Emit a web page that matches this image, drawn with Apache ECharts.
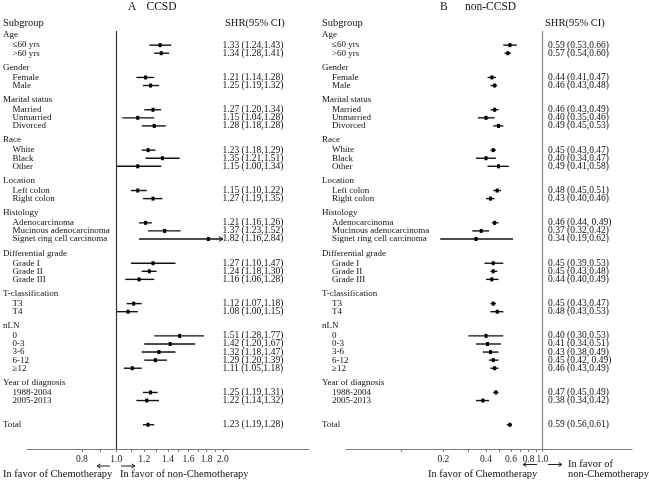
<!DOCTYPE html>
<html><head><meta charset="utf-8">
<script src="https://cdn.jsdelivr.net/npm/echarts@6/dist/echarts.min.js"></script>
<style>html,body{margin:0;padding:0;background:#fff}#c{width:649px;height:483px}</style>
</head><body><div id="c"></div>
<script>
// ---------------- data ----------------
const groups = ['Age','Gender','Marital status','Race','Location','Histology','Differential grade','T-classification','nLN','Year of diagnosis'];
const groupItems = [
  ['≤60 yrs','>60 yrs'],
  ['Female','Male'],
  ['Married','Unmarried','Divorced'],
  ['White','Black','Other'],
  ['Left colon','Right colon'],
  ['Adenocarcinoma','Mucinous adenocarcinoma','Signet ring cell carcinoma'],
  ['Grade I','Grade II','Grade III'],
  ['T3','T4'],
  ['0','0-3','3-6','6-12','≥12'],
  ['1988-2004','2005-2013']
];
const totalLabel = 'Total';

// Panel A: CCSD (items in order, Total last)
const shrA  = [1.33,1.34, 1.21,1.25, 1.27,1.15,1.28, 1.23,1.35,1.15, 1.15,1.27, 1.21,1.37,1.82, 1.27,1.24,1.16, 1.12,1.08, 1.51,1.42,1.32,1.29,1.11, 1.25,1.22, 1.23];
const lowA  = [1.24,1.28, 1.14,1.19, 1.20,1.04,1.18, 1.18,1.21,1.00, 1.10,1.19, 1.16,1.23,1.16, 1.10,1.18,1.06, 1.07,1.00, 1.28,1.20,1.18,1.20,1.05, 1.19,1.14, 1.19];
const highA = [1.43,1.41, 1.28,1.32, 1.34,1.28,1.38, 1.29,1.51,1.34, 1.22,1.35, 1.26,1.52,2.84, 1.47,1.30,1.28, 1.18,1.15, 1.77,1.67,1.47,1.39,1.18, 1.31,1.32, 1.28];
const textA = ['1.33 (1.24,1.43)','1.34 (1.28,1.41)','1.21 (1.14,1.28)','1.25 (1.19,1.32)','1.27 (1.20,1.34)','1.15 (1.04,1.28)','1.28 (1.18,1.28)',
  '1.23 (1.18,1.29)','1.35 (1.21,1.51)','1.15 (1.00,1.34)','1.15 (1.10,1.22)','1.27 (1.19,1.35)','1.21 (1.16,1.26)','1.37 (1.23,1.52)','1.82 (1.16,2.84)',
  '1.27 (1.10,1.47)','1.24 (1.18,1.30)','1.16 (1.06,1.28)','1.12 (1.07,1.18)','1.08 (1.00,1.15)',
  '1.51 (1.28,1.77)','1.42 (1.20,1.67)','1.32 (1.18,1.47)','1.29 (1.20,1.39)','1.11 (1.05,1.18)','1.25 (1.19,1.31)','1.22 (1.14,1.32)','1.23 (1.19,1.28)'];

// Panel B: non-CCSD
const shrB  = [0.59,0.57, 0.44,0.46, 0.46,0.40,0.49, 0.45,0.40,0.49, 0.48,0.43, 0.46,0.37,0.34, 0.45,0.45,0.44, 0.45,0.48, 0.40,0.41,0.43,0.45,0.46, 0.47,0.38, 0.59];
const lowB  = [0.53,0.54, 0.41,0.43, 0.43,0.35,0.45, 0.43,0.34,0.41, 0.45,0.40, 0.44,0.32,0.19, 0.39,0.43,0.40, 0.43,0.43, 0.30,0.34,0.38,0.42,0.43, 0.45,0.34, 0.56];
const highB = [0.66,0.60, 0.47,0.48, 0.49,0.46,0.53, 0.47,0.47,0.58, 0.51,0.46, 0.49,0.42,0.62, 0.53,0.48,0.49, 0.47,0.53, 0.53,0.51,0.49,0.49,0.49, 0.49,0.42, 0.61];
const textB = ['0.59 (0.53,0.66)','0.57 (0.54,0.60)','0.44 (0.41,0.47)','0.46 (0.43,0.48)','0.46 (0.43,0.49)','0.40 (0.35,0.46)','0.49 (0.45,0.53)',
  '0.45 (0.43,0.47)','0.40 (0.34,0.47)','0.49 (0.41,0.58)','0.48 (0.45,0.51)','0.43 (0.40,0.46)','0.46 (0.44, 0.49)','0.37 (0.32,0.42)','0.34 (0.19,0.62)',
  '0.45 (0.39,0.53)','0.45 (0.43,0.48)','0.44 (0.40,0.49)','0.45 (0.43,0.47)','0.48 (0.43,0.53)',
  '0.40 (0.30,0.53)','0.41 (0.34,0.51)','0.43 (0.38,0.49)','0.45 (0.42, 0.49)','0.46 (0.43,0.49)','0.47 (0.45,0.49)','0.38 (0.34,0.42)','0.59 (0.56,0.61)'];

// axis ticks / labels
const ticksA  = [0.8,0.9,1.0,1.1,1.2,1.3,1.4,1.5,1.6,1.7,1.8,1.9,2.0];
const labelsA = [0.8,1.0,1.2,1.4,1.6,1.8,2.0];
const ticksB  = [0.1,0.2,0.3,0.4,0.5,0.6,0.7,0.8,0.9,1.0];
const labelsB = [0.2,0.4,0.6,0.8,1.0];

// ---------------- build rows ----------------
function buildRows(shr, low, high, txt) {
  const rows = []; let r = 0, k = 0;
  groups.forEach((g, gi) => {
    rows.push({header: true, label: g, y: r}); r++;
    groupItems[gi].forEach(it => {
      rows.push({header: false, label: it, y: r, v: shr[k], lo: low[k], hi: high[k], t: txt[k]}); r++; k++;
    });
    r++;
  });
  r++;
  rows.push({header: true, total: true, label: totalLabel, y: r, v: shr[k], lo: low[k], hi: high[k], t: txt[k]});
  return rows;
}
const rowsA = buildRows(shrA, lowA, highA, textA);
const rowsB = buildRows(shrB, lowB, highB, textB);

const FONT = '"Liberation Serif", "Times New Roman", serif';
const INK = '#111';

function makeRender(rows, pos, cap) {
  return function (params, api) {
    const row = rows[params.dataIndex];
    const y = api.coord([0, row.y])[1];
    const ch = [];
    const isItem = row.v !== undefined;
    ch.push({type: 'text', style: {text: row.label, x: (row.header ? pos.hx : pos.ix), y: y + (row.header && !row.total ? -2 : 0),
      font: '9px ' + FONT, fill: INK, verticalAlign: 'middle', align: 'left', textVerticalAlign: 'middle'}});
    if (isItem) {
      const capped = row.hi > cap;
      const x1 = api.coord([Math.log(row.lo), row.y])[0];
      const x2 = api.coord([Math.log(Math.min(row.hi, cap)), row.y])[0];
      const xp = api.coord([Math.log(row.v), row.y])[0];
      ch.push({type: 'line', shape: {x1: x1, y1: y, x2: x2, y2: y}, style: {stroke: INK, lineWidth: 1.4}});
      if (capped) {
        ch.push({type: 'polyline', shape: {points: [[x2 - 4, y - 2.5], [x2, y], [x2 - 4, y + 2.5]]}, style: {stroke: INK, lineWidth: 1, fill: null}});
      }
      ch.push({type: 'rect', shape: {x: xp - 1.5, y: y - 2, width: 3, height: 4}, style: {fill: '#000'}});
      ch.push({type: 'text', style: {text: row.t, x: pos.tx, y: y, font: '9.5px ' + FONT, fill: INK, verticalAlign: 'middle', align: 'left', textVerticalAlign: 'middle'}});
    }
    return {type: 'group', children: ch};
  };
}

function xAxisCfg(idx, min, max, ticks, labels) {
  return {
    type: 'value', gridIndex: idx, min: Math.log(min), max: Math.log(max),
    axisLine: {show: true, onZero: false, lineStyle: {color: '#7a7a7a', width: 1}},
    axisTick: {show: true, customValues: ticks.map(Math.log), length: 3, lineStyle: {color: '#7a7a7a'}},
    axisLabel: {show: true, customValues: labels.map(Math.log), formatter: v => Math.exp(v).toFixed(1),
      fontFamily: FONT, fontSize: 9.5, color: '#222', margin: 5},
    splitLine: {show: false}
  };
}
function yAxisCfg(idx) {
  return {type: 'value', gridIndex: idx, inverse: true, min: -0.75, max: 51, show: false};
}

function txt(t, x, y, size, align) {
  return {type: 'text', x: 0, y: 0, silent: true,
    style: {text: t, x: x, y: y, font: size + 'px ' + FONT, fill: INK, align: align || 'left', verticalAlign: 'middle', textVerticalAlign: 'middle'}};
}
function arrow(xa, xb, y) {
  const d = xb > xa ? 1 : -1;
  return [
    {type: 'line', silent: true, shape: {x1: xa, y1: y, x2: xb, y2: y}, style: {stroke: '#222', lineWidth: 1}},
    {type: 'polyline', silent: true, shape: {points: [[xb - d * 3.5, y - 2], [xb, y], [xb - d * 3.5, y + 2]]}, style: {stroke: '#222', lineWidth: 1, fill: null}}
  ];
}

const chart = echarts.init(document.getElementById('c'), null, {renderer: 'canvas'});
chart.setOption({
  animation: false,
  backgroundColor: '#fff',
  grid: [
    {left: 27, width: 282, top: 31, height: 418},
    {left: 346, width: 286, top: 31, height: 418}
  ],
  xAxis: [xAxisCfg(0, 0.56, 3.5, ticksA, labelsA), xAxisCfg(1, 0.041, 4.3, ticksB, labelsB)],
  yAxis: [yAxisCfg(0), yAxisCfg(1)],
  series: [
    {type: 'custom', xAxisIndex: 0, yAxisIndex: 0, clip: false, silent: true,
      data: rowsA.map(r => [0, r.y]), renderItem: makeRender(rowsA, {hx: 3, ix: 12.5, tx: 222.5}, 2.0),
      markLine: {silent: true, symbol: 'none', label: {show: false}, lineStyle: {color: '#333', width: 1.2, type: 'solid'}, data: [{xAxis: 0}]}},
    {type: 'custom', xAxisIndex: 1, yAxisIndex: 1, clip: false, silent: true,
      data: rowsB.map(r => [0, r.y]), renderItem: makeRender(rowsB, {hx: 322, ix: 332, tx: 548}, 4.3),
      markLine: {silent: true, symbol: 'none', label: {show: false}, lineStyle: {color: '#8a8a8a', width: 1.3, type: 'solid'}, data: [{xAxis: 0}]}}
  ],
  graphic: [
    txt('A', 128, 7, 11.5), txt('CCSD', 146.5, 7, 11.5),
    txt('B', 440, 7, 11.5), txt('non-CCSD', 465, 7, 11.5),
    txt('Subgroup', 3, 23, 10.5), txt('SHR(95% CI)', 225, 23, 10.5),
    txt('Subgroup', 322, 23, 10.5), txt('SHR(95% CI)', 545, 23, 10.5),
    txt('In favor of Chemotherapy', 3, 474, 10.5), txt('In favor of non-Chemotherapy', 120, 474, 10.5),
    txt('In favor of Chemotherapy', 428, 474, 10.5), txt('In favor of', 568, 464.5, 10.5), txt('non-Chemotherapy', 568, 474.5, 10.5),
    ...arrow(110, 97, 466), ...arrow(121, 135, 466),
    ...arrow(537, 523, 464.5), ...arrow(548, 562, 464.5)
  ]
});
</script></body></html>
